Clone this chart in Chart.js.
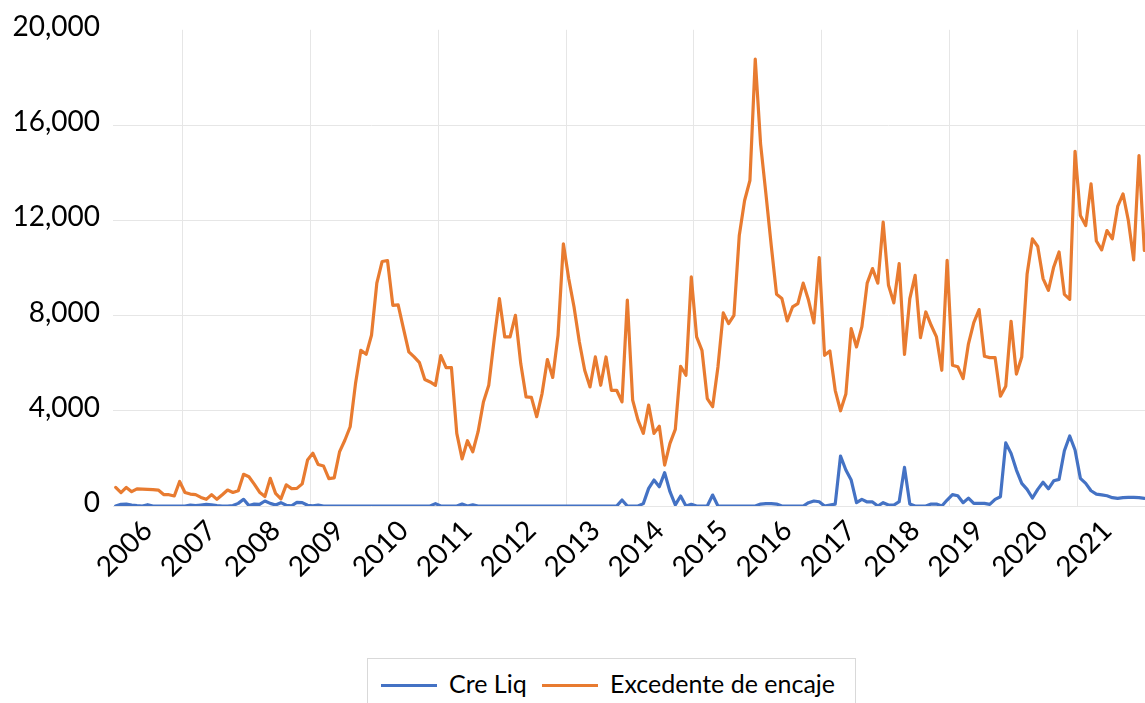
<!DOCTYPE html>
<html>
<head>
<meta charset="utf-8">
<script src="https://cdn.jsdelivr.net/npm/chart.js@4.4.0/dist/chart.umd.min.js"></script>
<style>
  html, body { margin: 0; padding: 0; background: #fff; overflow: hidden; }
  #wrap { position: relative; width: 1145px; height: 703px; overflow: hidden; }
  #chart { position: absolute; left: 0; top: 0; }
  #legend {
    position: absolute; left: 367px; top: 658px; width: 489px; height: 70px;
    border: 1px solid #d9d9d9; box-sizing: border-box;
    font-family: Lato, sans-serif; font-size: 25px; color: #000;
  }
  .item { position: absolute; top: 7px; height: 34px; display: flex; align-items: center; white-space: nowrap; }
  .swatch { display: inline-block; width: 56px; height: 3px; margin-right: 12px; position: relative; top: 2px; }
</style>
</head>
<body>
<div id="wrap">
  <canvas id="chart" width="1147" height="640"></canvas>
  <div id="legend"></div>
</div>
<script>
// monthly series, first point Dec 2005
const startYear = 2005, startMonth = 12;

const yearTicks = ['2006', '2007', '2008', '2009', '2010', '2011', '2012', '2013',
                   '2014', '2015', '2016', '2017', '2018', '2019', '2020', '2021'];
const yTicks = [0, 4000, 8000, 12000, 16000, 20000];

const creLiq = [
  0, 70, 80, 40, 15, 0, 55, 0, 0, 0,
  0, 0, 0, 0, 40, 15, 40, 70, 50, 20,
  0, 0, 20, 110, 280, 15, 80, 70, 210, 110,
  40, 140, 30, 10, 150, 140, 30, 10, 40, 0,
  0, 0, 0, 0, 0, 0, 0, 0, 0, 0,
  0, 0, 0, 0, 0, 0, 0, 0, 0, 0,
  100, 0, 0, 0, 0, 80, 0, 50, 0, 0,
  0, 0, 0, 0, 0, 0, 0, 0, 0, 0,
  0, 0, 0, 0, 0, 0, 0, 0, 0, 0,
  0, 0, 0, 0, 0, 250, 0, 0, 0, 100,
  740, 1090, 810, 1400, 600, 50, 420, 0, 70, 0,
  0, 0, 460, 0, 0, 0, 0, 0, 0, 0,
  0, 80, 100, 100, 80, 0, 0, 0, 0, 0,
  140, 210, 180, 0, 40, 80, 2100, 1510, 1090, 140,
  280, 170, 170, 0, 140, 40, 40, 180, 1620, 80,
  0, 0, 0, 80, 80, 0, 250, 475, 430, 140,
  330, 110, 110, 110, 70, 280, 390, 2650, 2210, 1510,
  950, 700, 335, 700, 1000, 720, 1060, 1120, 2320, 2940,
  2350, 1160, 950, 640, 500, 470, 430, 350, 320, 350,
  360, 360, 350, 320
];

const excedente = [
  780, 560, 780, 600, 720, 710, 700, 690, 670, 480,
  475, 420, 1030, 570, 500, 475, 360, 280, 480, 280,
  470, 670, 570, 640, 1330, 1230, 920, 580, 400, 1160,
  530, 300, 890, 730, 740, 930, 1930, 2220, 1740, 1680,
  1150, 1180, 2270, 2760, 3330, 5140, 6540, 6370, 7170, 9360,
  10270, 10310, 8430, 8450, 7450, 6470, 6260, 6020, 5310, 5210,
  5070, 6320, 5810, 5810, 3050, 1980, 2740, 2280, 3120, 4370,
  5070, 6960, 8710, 7100, 7100, 8010, 5980, 4580, 4560, 3750,
  4720, 6150, 5400, 7170, 11010, 9550, 8360, 6890, 5700, 5000,
  6260, 5070, 6260, 4860, 4860, 4370, 8650, 4450, 3610, 3050,
  4240, 3050, 3350, 1720, 2630, 3220, 5870, 5490, 9620, 7100,
  6540, 4510, 4170, 5840, 8110, 7660, 8010, 11360, 12830, 13670,
  18770, 15210, 13110, 10940, 8890, 8710, 7770, 8360, 8500, 9360,
  8640, 7690, 10430, 6330, 6510, 4860, 4000, 4700, 7450, 6680,
  7520, 9360, 9970, 9360, 11920, 9270, 8530, 10180, 6370, 8710,
  9690, 7070, 8150, 7590, 7100, 5700, 10320, 5910, 5850, 5350,
  6810, 7700, 8250, 6290, 6230, 6230, 4610, 5030, 7760, 5540,
  6260, 9730, 11220, 10900, 9550, 9060, 10040, 10670, 8890, 8680,
  14900, 12200, 11780, 13530, 11130, 10760, 11570, 11220, 12580, 13110,
  11990, 10340, 14720, 10730
];

const series = [
  { label: 'Cre Liq', data: creLiq, color: '#4472C4' },
  { label: 'Excedente de encaje', data: excedente, color: '#E87B30' }
];

// month labels
const months = creLiq.map((_, i) => {
  const m = startMonth - 1 + i;
  const y = startYear + Math.floor(m / 12);
  return y + '-' + String((m % 12) + 1).padStart(2, '0');
});

// year labels sit on June, gridlines every 2nd year boundary
const labelMonth = '06';
const gridEvery = 24, gridFirst = 13;
const GRID = '#e6e6e6';
const FONT = 'Lato, sans-serif';

new Chart(document.getElementById('chart'), {
  type: 'line',
  data: {
    labels: months,
    datasets: series.map((s, i) => ({
      label: s.label,
      data: s.data,
      borderColor: s.color,
      backgroundColor: s.color,
      borderWidth: 3.2,
      pointRadius: 0,
      tension: 0,
      borderJoinStyle: 'round',
      borderCapStyle: 'round',
      order: series.length - 1 - i
    }))
  },
  options: {
    responsive: false,
    animation: false,
    layout: { padding: { top: 29, left: 0, right: 0, bottom: 0 } },
    plugins: { legend: { display: false }, tooltip: { enabled: false } },
    scales: {
      x: {
        type: 'category',
        offset: true,
        afterFit: (s) => { s.height = 134; s.paddingRight = 0; s.paddingLeft = 0; },
        grid: {
          offset: true,
          drawTicks: false,
          color: (ctx) => (ctx.index >= gridFirst && (ctx.index - gridFirst) % gridEvery === 0) ? GRID : 'transparent'
        },
        border: { display: false },
        ticks: {
          autoSkip: false,
          minRotation: 45,
          maxRotation: 45,
          padding: 8,
          color: '#000',
          font: { family: FONT, size: 28 },
          callback: (v, i) => {
            const lab = months[i];
            if (!lab.endsWith('-' + labelMonth)) return '';
            const yr = lab.slice(0, 4);
            return yearTicks.includes(yr) ? yr : '';
          }
        }
      },
      y: {
        min: yTicks[0],
        max: yTicks[yTicks.length - 1],
        afterFit: (s) => { s.width = 113; },
        afterBuildTicks: (s) => { s.ticks = yTicks.map(v => ({ value: v })); },
        grid: {
          drawTicks: false,
          color: (ctx) => ctx.tick && ctx.tick.value === 20000 ? 'transparent' : GRID
        },
        border: { display: false },
        ticks: {
          padding: 13,
          labelOffset: -3,
          color: '#000',
          font: { family: FONT, size: 28 },
          callback: (v) => v.toLocaleString('en-US')
        }
      }
    }
  }
});

// legend
const legend = document.getElementById('legend');
const itemLeft = [13, 174];
series.forEach((s, i) => {
  const it = document.createElement('div');
  it.className = 'item';
  it.style.left = itemLeft[i] + 'px';
  it.innerHTML = '<span class="swatch" style="background:' + s.color + '"></span><span>' + s.label + '</span>';
  legend.appendChild(it);
});
</script>
</body>
</html>
